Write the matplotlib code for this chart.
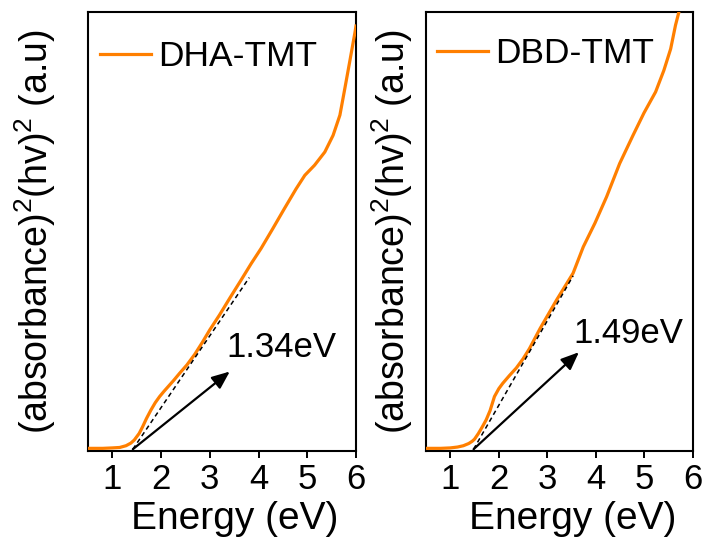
import matplotlib.pyplot as plt

plt.rcParams['font.family'] = ['Liberation Sans', 'DejaVu Sans']
plt.rcParams['mathtext.fontset'] = 'custom'
plt.rcParams['mathtext.rm'] = 'Liberation Sans'

# DHA-TMT (left panel)
dha_energy = [0.5, 0.8, 1.0, 1.15, 1.28, 1.38, 1.45, 1.55, 1.62, 1.70, 1.79, 1.88, 1.97,
              2.06, 2.14, 2.26, 2.38, 2.53, 2.69, 2.85, 3.0, 3.2, 3.42, 3.64, 3.85, 4.05,
              4.29, 4.53, 4.77, 4.95, 5.15, 5.36, 5.53, 5.67, 5.77, 5.87, 5.98, 6.0]
dha_signal = [0.006, 0.006, 0.007, 0.008, 0.012, 0.018, 0.025, 0.040, 0.055, 0.074, 0.093, 0.110, 0.124,
              0.136, 0.146, 0.161, 0.177, 0.196, 0.220, 0.248, 0.276, 0.310, 0.350, 0.389, 0.427, 0.461,
              0.506, 0.552, 0.597, 0.628, 0.651, 0.681, 0.719, 0.765, 0.825, 0.886, 0.954, 0.968]

# DBD-TMT (right panel)
dbd_energy = [0.5, 0.8, 1.0, 1.15, 1.27, 1.38, 1.45, 1.50, 1.58, 1.66, 1.74, 1.82, 1.91,
              2.0, 2.08, 2.22, 2.36, 2.50, 2.63, 2.85, 3.19, 3.53, 3.74, 3.98, 4.22, 4.49,
              4.76, 4.99, 5.23, 5.40, 5.54, 5.64, 5.71]
dbd_signal = [0.006, 0.006, 0.007, 0.009, 0.012, 0.017, 0.022, 0.027, 0.040, 0.055, 0.071, 0.092, 0.124,
              0.142, 0.154, 0.172, 0.189, 0.210, 0.233, 0.279, 0.344, 0.405, 0.465, 0.519, 0.579, 0.655,
              0.718, 0.770, 0.818, 0.867, 0.916, 0.970, 1.0]

# Tauc tangent lines: [start, end]
dha_fit_x = [1.42, 3.81]
dha_fit_y = [0.004, 0.395]
dbd_fit_x = [1.48, 3.53]
dbd_fit_y = [0.004, 0.399]

labels = ['DHA-TMT', 'DBD-TMT']
gaps = ['1.34eV', '1.49eV']
arrow_heads = [(3.41, 0.181), (3.65, 0.225)]
gap_text_pos = [(3.35, 0.213), (3.53, 0.245)]

fig = plt.figure(figsize=(7.08, 5.45), dpi=100)
rects = [[0.1243, 0.1725, 0.3785, 0.8055], [0.6017, 0.1725, 0.3771, 0.8055]]
ylabel_x = [-0.111, -0.041]
legend_anchor = [(0.045, 0.936), (0.040, 0.943)]
curves = [(dha_energy, dha_signal, dha_fit_x, dha_fit_y),
          (dbd_energy, dbd_signal, dbd_fit_x, dbd_fit_y)]

for i in range(2):
    ex, sy, fx, fy = curves[i]
    ax = fig.add_axes(rects[i])
    ax.plot(ex, sy, color='#ff7f00', lw=2.3, label=labels[i], zorder=3)
    ax.plot(fx, fy, color='black', lw=1.1, ls=(0, (3, 2.2)), zorder=4)
    ax.annotate('', xy=arrow_heads[i], xytext=(fx[0], fy[0]),
                arrowprops=dict(arrowstyle='-|>,head_length=0.6,head_width=0.25', color='black',
                                lw=1.6, mutation_scale=18, shrinkA=0, shrinkB=0))
    ax.text(gap_text_pos[i][0], gap_text_pos[i][1], gaps[i], fontsize=25,
            ha='left', va='baseline')
    ax.set_xlim(0.5, 6)
    ax.set_ylim(0, 1)
    ax.set_xticks([1, 2, 3, 4, 5, 6])
    ax.set_yticks([])
    ax.tick_params(axis='x', labelsize=25, width=1.4, length=5, pad=4)
    for sp in ax.spines.values():
        sp.set_linewidth(1.5)
    ax.set_xlabel('Energy (eV)', fontsize=28)
    ax.xaxis.set_label_coords(0.549, -0.113)
    ax.set_ylabel(r'(absorbance)$^2$(hv)$^2$ (a.u)', fontsize=27)
    ax.yaxis.set_label_coords(ylabel_x[i], 0.5)
    ax.legend(loc='upper left', bbox_to_anchor=legend_anchor[i], fontsize=25.5, frameon=False,
              handlelength=1.45, handletextpad=0.2, borderaxespad=0, borderpad=0)

plt.savefig('out.png', dpi=100)
